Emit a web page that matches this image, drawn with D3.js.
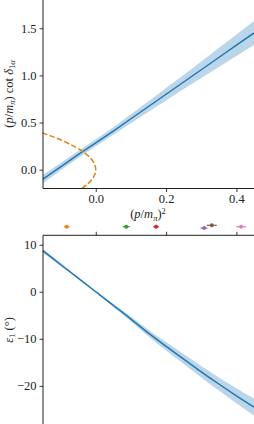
<!DOCTYPE html>
<html><head><meta charset="utf-8">
<script src="https://cdn.jsdelivr.net/npm/d3@7"></script>
<style>
html,body{margin:0;padding:0;background:#fff;}
svg{display:block;}
text{font-family:"Liberation Serif","DejaVu Serif",serif;fill:#222;}
</style></head><body>
<svg id="c" width="254" height="424"></svg>
<script>
// ---- data ----
const p2Grid = [-0.15,-0.10,-0.05,0.00,0.05,0.10,0.15,0.20,0.25,0.30,0.35,0.40,0.45];
const pcot = [-0.10,0.03,0.16,0.285,0.41,0.54,0.67,0.80,0.93,1.06,1.19,1.32,1.45];
const pcotErr = [0.045,0.04,0.037,0.037,0.04,0.047,0.055,0.065,0.075,0.087,0.10,0.113,0.127];
const boundY = [-0.20,-0.15,-0.10,-0.05,0.00,0.05,0.10,0.15,0.20,0.25,0.30,0.35,0.39];
const boundX = [-0.04,-0.0225,-0.01,-0.0025,0.0,-0.0025,-0.01,-0.0225,-0.04,-0.0625,-0.09,-0.1225,-0.152];
const eps = [8.7,5.8,2.9,0.0,-2.9,-5.8,-8.8,-11.6,-14.3,-17.0,-19.6,-22.1,-24.5];
const epsErr = [0.4,0.3,0.2,0.15,0.3,0.5,0.7,0.9,1.05,1.2,1.4,1.6,1.8];
const ptX = [-0.0825,0.0868,0.1716,0.308,0.330,0.4134];
const ptXErr = [0.008,0.01,0.008,0.01,0.014,0.014];
const ptLane = [0,0,0,-1,1,0];
const ptColors = ["#ff7f0e","#2ca02c","#d62728","#9467bd","#8c564b","#e377c2"];
const xTicks = [0.0,0.2,0.4];
const topYTicks = [0.0,0.5,1.0,1.5];
const botYTicks = [10,0,-10,-20];

// ---- layout ----
const svg = d3.select("#c");
const L = 43, R = 254;
const x = d3.scaleLinear().domain([-0.15,0.45]).range([L,R]);
const yTop = d3.scaleLinear().domain([-0.2,1.8]).range([188.5,0]);
const yBot = d3.scaleLinear().domain([-28.1,12.0]).range([424,235.3]);
const blue = "#1f77b4";
const spine = "#222";
const FS = "12.5px";

// ---- top panel ----
const gT = svg.append("g");
const dTop = p2Grid.map((v,i)=>({x:v,y:pcot[i],e:pcotErr[i]}));
gT.append("path").datum(dTop)
  .attr("d", d3.area().x(d=>x(d.x)).y0(d=>yTop(d.y-d.e)).y1(d=>yTop(d.y+d.e)))
  .attr("fill", blue).attr("fill-opacity",0.3);
gT.append("path").datum(dTop)
  .attr("d", d3.line().x(d=>x(d.x)).y(d=>yTop(d.y)))
  .attr("fill","none").attr("stroke",blue).attr("stroke-width",1.5);
const dB = boundY.map((v,i)=>({x:boundX[i],y:v}));
gT.append("path").datum(dB)
  .attr("d", d3.line().x(d=>x(d.x)).y(d=>yTop(d.y)).curve(d3.curveCatmullRom))
  .attr("fill","none").attr("stroke","#e0820f").attr("stroke-width",1.5)
  .attr("stroke-dasharray","5.5,2.4");

// axes top
const axTB = gT.append("g").attr("transform","translate(0,188.5)")
  .call(d3.axisBottom(x).tickValues(xTicks).tickSize(3.5).tickPadding(2).tickFormat(d3.format(".1f")));
const axTL = gT.append("g").attr("transform","translate(43,0)")
  .call(d3.axisLeft(yTop).tickValues(topYTicks).tickSize(3.5).tickPadding(3).tickFormat(d3.format(".1f")));
[axTB,axTL].forEach(a=>{
  a.select(".domain").remove();
  a.selectAll("line").attr("stroke",spine).attr("stroke-width",0.9);
  a.selectAll("text").style("font-family","Liberation Serif").style("font-size",FS).attr("fill","#222");
});
gT.append("line").attr("x1",L).attr("x2",R).attr("y1",188.5).attr("y2",188.5).attr("stroke",spine).attr("stroke-width",1);
gT.append("line").attr("x1",L).attr("x2",L).attr("y1",0).attr("y2",188.5).attr("stroke",spine).attr("stroke-width",1);

// labels
const xl = svg.append("text").attr("x",148).attr("y",218).attr("text-anchor","middle").style("font-size",FS);
xl.append("tspan").text("(");
xl.append("tspan").attr("font-style","italic").text("p");
xl.append("tspan").text("/");
xl.append("tspan").attr("font-style","italic").text("m");
xl.append("tspan").attr("font-style","italic").attr("font-size","8.5px").attr("dy",2.5).text("π");
xl.append("tspan").attr("dy",-2.5).text(")");
xl.append("tspan").attr("font-size","8.5px").attr("dy",-4.5).text("2");

const yl = svg.append("text").attr("transform","translate(12.5,94) rotate(-90)").attr("text-anchor","middle").style("font-size",FS);
yl.append("tspan").text("(");
yl.append("tspan").attr("font-style","italic").text("p");
yl.append("tspan").text("/");
yl.append("tspan").attr("font-style","italic").text("m");
yl.append("tspan").attr("font-style","italic").attr("font-size","8.5px").attr("dy",2.5).text("π");
yl.append("tspan").attr("dy",-2.5).text(") cot ");
yl.append("tspan").attr("font-style","italic").text("δ");
yl.append("tspan").attr("font-size","8.5px").attr("dy",2.5).text("1");
yl.append("tspan").attr("font-size","8.5px").attr("font-style","italic").text("α");

// ---- bottom panel ----
const gB = svg.append("g");
const dBot = p2Grid.map((v,i)=>({x:v,y:eps[i],e:epsErr[i]}));
gB.append("path").datum(dBot)
  .attr("d", d3.area().x(d=>x(d.x)).y0(d=>yBot(d.y-d.e)).y1(d=>yBot(d.y+d.e)).curve(d3.curveMonotoneX))
  .attr("fill", blue).attr("fill-opacity",0.3);
gB.append("path").datum(dBot)
  .attr("d", d3.line().x(d=>x(d.x)).y(d=>yBot(d.y)).curve(d3.curveMonotoneX))
  .attr("fill","none").attr("stroke",blue).attr("stroke-width",1.5);

const axBT = gB.append("g").attr("transform","translate(0,235.3)")
  .call(d3.axisTop(x).tickValues(xTicks).tickSize(3.5).tickFormat(""));
const axBL = gB.append("g").attr("transform","translate(43,0)")
  .call(d3.axisLeft(yBot).tickValues(botYTicks).tickSize(3.5).tickPadding(3).tickFormat(d=>d3.format("d")(d).replace("-","\u2212")));
[axBT,axBL].forEach(a=>{
  a.select(".domain").remove();
  a.selectAll("line").attr("stroke",spine).attr("stroke-width",0.9);
  a.selectAll("text").style("font-family","Liberation Serif").style("font-size",FS).attr("fill","#222");
});
gB.append("line").attr("x1",L).attr("x2",R).attr("y1",235.3).attr("y2",235.3).attr("stroke",spine).attr("stroke-width",1);
gB.append("line").attr("x1",L).attr("x2",L).attr("y1",235.3).attr("y2",424).attr("stroke",spine).attr("stroke-width",1);

const bl = svg.append("text").attr("transform","translate(12.5,330) rotate(-90)").attr("text-anchor","middle").style("font-size",FS);
bl.append("tspan").attr("font-style","italic").text("ε");
bl.append("tspan").attr("font-size","8.5px").attr("dy",2.5).text("1");
bl.append("tspan").attr("dy",-2.5).text(" (°)");

// ---- point strip ----
const yStrip = 226.7;
const pts = svg.append("g");
ptX.forEach((v,i)=>{
  const yy = yStrip + ptLane[i]*(-1.4);
  pts.append("line").attr("x1",x(v-ptXErr[i])).attr("x2",x(v+ptXErr[i]))
    .attr("y1",yy).attr("y2",yy).attr("stroke",ptColors[i]).attr("stroke-width",1.2);
  pts.append("circle").attr("cx",x(v)).attr("cy",yy).attr("r",2).attr("fill",ptColors[i]);
});
</script>
</body></html>
